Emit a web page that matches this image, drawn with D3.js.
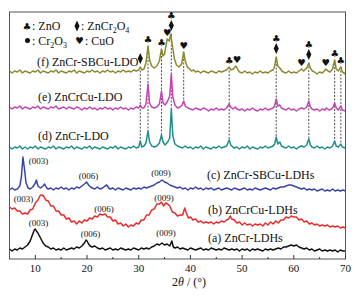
<!DOCTYPE html>
<html><head><meta charset="utf-8">
<script src="https://cdn.jsdelivr.net/npm/d3@7"></script>
<style>body{margin:0;background:#fff}svg{display:block}</style>
</head><body>
<svg id="c" width="355" height="296"></svg>
<script>
// ---- DATA: [2theta, intensity (a.u., stacked offsets)] ----
const seriesA = [[5,10],[5.5,8],[6,10],[6.5,9],[7,11],[7.5,10],[8,12],[8.5,14],[9,18],[9.5,25],[9.8,29],[10,30],[10.2,28],[10.5,26],[11,21],[11.5,16],[12,13],[12.5,12],[13,10],[13.5,11],[14,9],[14.5,10],[15,9],[15.5,11],[16,9],[16.5,10],[17,11],[17.5,10],[18,12],[18.5,11],[19,13],[19.5,16],[19.8,19],[20,18],[20.3,15],[20.6,13],[21,12],[21.5,13],[22,11],[22.5,10],[23,11],[23.5,9],[24,10],[24.5,11],[25,9],[25.5,10],[26,9],[26.5,11],[27,10],[27.5,9],[28,10],[28.5,9],[29,11],[29.5,10],[30,9],[30.5,11],[31,10],[31.5,11],[32,10],[32.5,12],[33,13],[33.5,15],[34,14],[34.5,16],[35,14],[35.5,15],[36,13],[36.4,18],[36.7,12],[37,11],[37.5,12],[38,10],[38.5,11],[39,10],[39.5,9],[40,11],[40.5,10],[41,9],[41.5,10],[42,11],[42.5,9],[43,10],[43.5,9],[44,11],[44.5,10],[45,9],[45.5,10],[46,9],[46.5,11],[47,10],[47.5,9],[48,10],[48.5,9],[49,10],[49.5,8],[50,10],[50.5,9],[51,10],[51.5,8],[52,10],[52.5,9],[53,10],[53.5,9],[54,8],[54.5,10],[55,9],[55.5,10],[56,9],[56.5,10],[57,11],[57.5,10],[58,12],[58.5,12],[59,13],[59.5,14],[60,13],[60.5,14],[61,12],[61.5,11],[62,10],[62.5,11],[63,9],[63.5,10],[64,8],[64.5,9],[65,10],[65.5,8],[66,9],[66.5,8],[67,9],[67.5,8],[68,9],[68.5,7],[69,9],[69.5,8],[70,8]];

const seriesB = [[5,52],[5.5,50],[6,51],[6.5,48],[7,48],[7.5,45],[8,46],[8.5,45],[9,49],[9.5,50],[10,56],[10.5,59],[11,64],[11.3,64],[11.6,63],[12,59],[12.5,58],[13,53],[13.5,53],[14,48],[14.5,48],[15,44],[15.5,44],[16,40],[16.5,41],[17,37],[17.5,38],[18,35],[18.5,38],[19,36],[19.5,39],[20,38],[20.5,41],[21,40],[21.5,43],[22,42],[22.5,45],[23,44],[23.5,45],[24,42],[24.5,42],[25,38],[25.5,39],[26,35],[26.5,36],[27,33],[27.5,35],[28,32],[28.5,34],[29,33],[29.5,36],[30,35],[30.5,39],[31,39],[31.5,44],[32,44],[32.5,49],[33,50],[33.5,55],[34,55],[34.4,57],[34.8,53],[35.2,56],[35.6,55],[36,53],[36.5,47],[37,46],[37.5,43],[38,44],[38.5,44],[38.9,51],[39.2,46],[39.6,41],[40,42],[40.5,39],[41,40],[41.5,37],[42,38],[42.5,36],[43,37],[43.5,36],[44,37],[44.5,35],[45,37],[45.5,36],[46,38],[46.5,37],[47,39],[47.4,40],[47.7,43],[48,40],[48.5,39],[49,36],[49.5,37],[50,34],[50.5,36],[51,34],[51.5,35],[52,33],[52.5,35],[53,34],[53.5,35],[54,33],[54.5,36],[55,34],[55.5,37],[56,35],[56.5,38],[57,36],[57.5,39],[58,39],[58.5,42],[59,41],[59.5,43],[60,42],[60.5,42],[61,39],[61.5,40],[62,37],[62.5,38],[63,35],[63.5,36],[64,34],[64.5,35],[65,33],[65.5,34],[66,33],[66.5,34],[67,32],[67.5,33],[68,32],[68.5,33],[69,31],[69.5,32],[70,31]];

const seriesC = [[5,69],[5.5,71],[6,69],[6.5,70],[7,73],[7.3,82],[7.6,102],[7.9,90],[8.2,76],[8.6,71],[9,70],[9.5,72],[10,76],[10.2,79],[10.5,73],[11,71],[11.5,73],[11.8,75],[12.2,71],[12.5,70],[13,71],[13.5,69],[14,71],[14.5,70],[15,72],[15.5,70],[16,71],[16.5,69],[17,71],[17.5,70],[18,72],[18.5,71],[19,73],[19.5,75],[19.9,77],[20.3,74],[20.7,72],[21,71],[21.5,70],[22,72],[22.5,70],[23,71],[23.5,73],[23.8,74],[24.2,71],[24.5,70],[25,71],[25.5,69],[26,71],[26.5,70],[27,69],[27.5,71],[28,70],[28.5,69],[29,71],[29.5,70],[30,71],[30.5,70],[31,72],[31.5,71],[32,72],[32.5,73],[33,74],[33.5,76],[34,77],[34.5,79],[35,77],[35.5,76],[36,74],[36.5,73],[37,72],[37.5,71],[38,72],[38.5,70],[39,71],[39.5,69],[40,71],[40.5,70],[41,72],[41.5,70],[42,71],[42.5,69],[43,71],[43.5,70],[44,71],[44.5,69],[45,70],[45.5,71],[46,69],[46.5,70],[47,71],[47.5,70],[48,69],[48.5,71],[49,70],[49.5,69],[50,70],[50.5,71],[51,69],[51.5,70],[52,69],[52.5,71],[53,70],[53.5,69],[54,70],[54.5,71],[55,70],[55.5,69],[56,71],[56.5,70],[57,71],[57.5,72],[58,72],[58.5,73],[59,74],[59.5,74],[60,73],[60.5,72],[61,71],[61.5,70],[62,71],[62.5,69],[63,70],[63.5,69],[64,70],[64.5,68],[65,69],[65.5,70],[66,68],[66.5,69],[67,68],[67.5,70],[68,68],[68.5,69],[69,68],[69.5,69],[70,68]];

const seriesD = [[5,112],[5.5,110],[6,112],[6.5,111],[7,113],[7.5,110],[8,112],[8.5,110],[9,112],[9.5,111],[10,113],[10.5,110],[11,112],[11.5,111],[12,110],[12.5,112],[13,111],[13.5,113],[14,110],[14.5,112],[15,111],[15.5,110],[16,112],[16.5,111],[17,113],[17.5,110],[18,112],[18.5,111],[19,110],[19.5,112],[20,111],[20.5,113],[21,110],[21.5,112],[22,111],[22.5,110],[23,112],[23.5,111],[24,110],[24.5,112],[25,111],[25.5,113],[26,110],[26.5,112],[27,111],[27.5,110],[28,112],[28.5,111],[29,113],[29.5,111],[30,112],[30.3,118],[30.6,112],[31,113],[31.4,116],[31.8,128],[32.1,117],[32.5,113],[33,112],[33.5,113],[34,116],[34.4,124],[34.7,117],[35.1,114],[35.6,117],[36,121],[36.3,150],[36.6,123],[37,115],[37.5,113],[38,112],[38.5,111],[39,113],[39.5,111],[40,112],[40.5,110],[41,112],[41.5,111],[42,113],[42.5,110],[43,112],[43.5,111],[44,110],[44.5,112],[45,111],[45.5,113],[46,111],[46.5,112],[47,113],[47.5,119],[47.8,114],[48.2,112],[48.5,111],[49,112],[49.5,110],[50,112],[50.5,111],[51,113],[51.5,110],[52,112],[52.5,111],[53,110],[53.5,112],[54,111],[54.5,113],[55,111],[55.5,112],[56,113],[56.3,115],[56.6,122],[56.9,115],[57.3,117],[57.6,113],[58,112],[58.5,111],[59,113],[59.5,111],[60,112],[60.5,110],[61,112],[61.5,113],[62,112],[62.5,114],[62.9,120],[63.2,114],[63.5,112],[64,111],[64.5,113],[65,111],[65.5,112],[66,110],[66.5,112],[67,111],[67.5,113],[67.9,118],[68.2,113],[68.6,112],[69.1,115],[69.4,112],[70,111]];

const seriesE = [[5,152],[5.5,150],[6,152],[6.5,151],[7,153],[7.5,150],[8,152],[8.5,151],[9,150],[9.5,152],[10,151],[10.5,153],[11,150],[11.5,152],[12,151],[12.5,150],[13,152],[13.5,151],[14,153],[14.5,150],[15,151],[15.5,152],[16,150],[16.5,152],[17,151],[17.5,150],[18,152],[18.5,151],[19,149],[19.5,151],[20,150],[20.5,152],[21,150],[21.5,151],[22,149],[22.5,151],[23,150],[23.5,152],[24,150],[24.5,151],[25,149],[25.5,151],[26,150],[26.5,152],[27,150],[27.5,151],[28,149],[28.5,151],[29,150],[29.5,152],[30,151],[30.3,154],[30.6,151],[31,151],[31.4,155],[31.8,175],[32.1,156],[32.5,152],[33,151],[33.5,152],[34,155],[34.4,168],[34.7,156],[35.1,154],[35.6,158],[36,163],[36.3,185],[36.6,162],[37,154],[37.5,151],[38,152],[38.4,154],[38.7,158],[39,153],[39.5,151],[40,150],[40.5,149],[41,151],[41.5,150],[42,149],[42.5,151],[43,150],[43.5,148],[44,150],[44.5,149],[45,151],[45.5,149],[46,150],[46.5,149],[47,151],[47.5,155],[47.8,152],[48.2,150],[48.7,152],[49,150],[49.5,149],[50,150],[50.5,148],[51,150],[51.5,149],[52,151],[52.5,149],[53,148],[53.5,150],[54,149],[54.5,151],[55,149],[55.5,150],[56,151],[56.3,153],[56.6,160],[56.9,153],[57.3,154],[57.6,151],[58,150],[58.5,149],[59,151],[59.5,149],[60,150],[60.5,148],[61,150],[61.5,151],[62,150],[62.5,152],[62.9,158],[63.2,152],[63.5,150],[64,149],[64.5,150],[65,148],[65.5,150],[66,149],[66.3,151],[66.8,149],[67.3,150],[67.6,152],[67.9,156],[68.2,151],[68.6,149],[69.1,153],[69.4,149],[70,148]];

const seriesF = [[5,188],[5.5,186],[6,188],[6.5,187],[7,189],[7.5,186],[8,188],[8.5,187],[9,186],[9.5,188],[10,187],[10.5,189],[11,186],[11.5,188],[12,187],[12.5,186],[13,188],[13.5,187],[14,189],[14.5,186],[15,188],[15.5,187],[16,186],[16.5,188],[17,187],[17.5,189],[18,186],[18.5,188],[19,187],[19.5,186],[20,188],[20.5,187],[21,189],[21.5,187],[22,188],[22.5,186],[23,188],[23.5,187],[24,189],[24.5,187],[25,188],[25.5,186],[26,188],[26.5,187],[27,189],[27.5,187],[28,188],[28.5,187],[29,189],[29.5,188],[30,189],[30.3,192],[30.6,189],[31,190],[31.4,196],[31.8,213],[32.1,199],[32.5,193],[33,191],[33.5,193],[34,198],[34.4,210],[34.7,203],[35,205],[35.5,220],[35.9,218],[36.2,225],[36.5,214],[36.9,200],[37.3,194],[37.8,192],[38.3,195],[38.7,207],[39,198],[39.4,192],[39.8,190],[40.2,188],[40.6,189],[41,187],[41.5,188],[42,186],[42.5,188],[43,187],[43.5,186],[44,188],[44.5,187],[45,186],[45.5,188],[46,187],[46.5,188],[47,189],[47.5,192],[47.8,189],[48.3,190],[48.8,193],[49.2,189],[49.5,187],[50,186],[50.5,188],[51,186],[51.5,187],[52,185],[52.5,187],[53,186],[53.5,188],[54,186],[54.5,187],[55,186],[55.5,188],[56,189],[56.3,193],[56.6,202],[56.9,193],[57.3,191],[57.7,188],[58,187],[58.5,186],[59,188],[59.5,186],[60,187],[60.5,186],[61,188],[61.5,190],[61.9,188],[62.3,190],[62.6,192],[62.9,196],[63.2,191],[63.6,188],[64,187],[64.5,185],[65,187],[65.5,186],[65.9,188],[66.2,190],[66.6,188],[67,187],[67.5,190],[67.9,199],[68.2,190],[68.6,188],[69.1,192],[69.4,187],[70,185]];

const sampleNames = ["(a) ZnCr-LDHs","(b) ZnCrCu-LDHs","(c) ZnCr-SBCu-LDHs","(d) ZnCr-LDO","(e) ZnCrCu-LDO","(f) ZnCr-SBCu-LDO"];
const millerLabels = ["(003)","(006)","(009)"];
const xTicks = [10,20,30,40,50,60,70];
const xMinorTicks = [15,25,35,45,55,65];
// phase reflections marked above curve (f), glyphs listed bottom to top
const phaseMarks = [
  {theta:30.3, marks:["diamond"]},
  {theta:31.8, marks:["club"]},
  {theta:34.4, marks:["club"]},
  {theta:35.5, marks:["heart"]},
  {theta:36.3, marks:["diamond","club"]},
  {theta:38.7, marks:["heart"]},
  {theta:47.5, marks:["club"]},
  {theta:49.0, marks:["heart"]},
  {theta:56.6, marks:["diamond","club"]},
  {theta:61.5, marks:["heart"]},
  {theta:62.9, marks:["diamond","club"]},
  {theta:66.2, marks:["heart"]},
  {theta:67.9, marks:["club"]},
  {theta:69.1, marks:["club"]}
];
// dashed guide lines: from curve (f) down to the given curve
const guideLines = [
  {theta:30.3, to:"d"},{theta:31.8, to:"d"},{theta:34.4, to:"d"},{theta:36.3, to:"d"},
  {theta:38.7, to:"e"},{theta:47.5, to:"d"},{theta:56.6, to:"d"},{theta:62.9, to:"d"},
  {theta:67.9, to:"d"},{theta:69.1, to:"d"}
];

// ---- DRAWING ----
const svg = d3.select("#c");
const x = d3.scaleLinear().domain([5,70]).range([9.5,345.5]);
const y = d3.scaleLinear().domain([0,247]).range([259,12]);
const serif = "'Liberation Serif','Times New Roman',serif";
const sym = "'DejaVu Sans',sans-serif";

const series = {a:seriesA,b:seriesB,c:seriesC,d:seriesD,e:seriesE,f:seriesF};
const colors = {a:"#111111",b:"#ea2a2a",c:"#3845a6",d:"#1f9088",e:"#c444b6",f:"#8b8a30"};

function peakAt(s,t){ return d3.max(s.filter(p=>Math.abs(p[0]-t)<=0.25), p=>p[1]); }

// dashed guides
svg.append("g").selectAll("line").data(guideLines).join("line")
  .attr("x1",d=>x(d.theta)).attr("x2",d=>x(d.theta))
  .attr("y1",d=>y(peakAt(seriesF,d.theta)))
  .attr("y2",d=>y(peakAt(series[d.to],d.theta)))
  .attr("stroke","#222").attr("stroke-width",0.8).attr("stroke-dasharray","2,1.5");

// curves
const line = d3.line().x(d=>x(d[0])).y(d=>y(d[1]));
["a","b","c","d","e","f"].forEach(k=>{
  svg.append("path").datum(series[k]).attr("d",line)
    .attr("fill","none").attr("stroke",colors[k]).attr("stroke-width",1.5)
    .attr("stroke-linejoin","round");
});

// frame
svg.append("rect").attr("x",x(5)).attr("y",y(247)).attr("width",x(70)-x(5)).attr("height",y(0)-y(247))
  .attr("fill","none").attr("stroke","#555").attr("stroke-width",1);

// x axis ticks (inward)
const ax = svg.append("g");
ax.selectAll("line.maj").data(xTicks).join("line").attr("class","maj")
  .attr("x1",d=>x(d)).attr("x2",d=>x(d)).attr("y1",y(0)).attr("y2",y(0)-4)
  .attr("stroke","#333").attr("stroke-width",1);
ax.selectAll("line.min").data(xMinorTicks).join("line").attr("class","min")
  .attr("x1",d=>x(d)).attr("x2",d=>x(d)).attr("y1",y(0)).attr("y2",y(0)-2)
  .attr("stroke","#333").attr("stroke-width",1);
ax.selectAll("text").data(xTicks).join("text")
  .attr("x",d=>x(d)).attr("y",271.5).attr("text-anchor","middle")
  .attr("font-family",serif).attr("font-size",11).attr("fill","#111").text(d=>d);

// axis title 2θ / (°)
const tt = svg.append("text").attr("x",189).attr("y",285.5).attr("text-anchor","middle")
  .attr("font-family",serif).attr("font-size",12).attr("fill","#111");
tt.append("tspan").text("2");
tt.append("tspan").attr("font-style","italic").text("θ");
tt.append("tspan").text(" / (°)");

// sample labels
const lab = (t,px,py)=>svg.append("text").attr("x",px).attr("y",py)
  .attr("font-family",serif).attr("font-size",12).attr("fill","#111").text(t);
lab(sampleNames[5],37,66);
lab(sampleNames[4],38,101);
lab(sampleNames[3],38,140);
lab(sampleNames[2],207,179);
lab(sampleNames[1],208,214);
lab(sampleNames[0],208,242);

// miller labels
const ml = (t,px,py)=>svg.append("text").attr("x",px).attr("y",py).attr("text-anchor","middle")
  .attr("font-family",serif).attr("font-size",9).attr("fill","#111").text(t);
ml(millerLabels[0],38.5,164); ml(millerLabels[1],88.5,179); ml(millerLabels[2],161,175.5);
ml(millerLabels[0],23.5,202); ml(millerLabels[1],104,211.5); ml(millerLabels[2],164,200.5);
ml(millerLabels[0],38.5,225.5); ml(millerLabels[1],90.5,236.5); ml(millerLabels[2],166,236);

// glyph drawing
const glyphH = {club:8, heart:8, diamond:11};
function drawGlyph(kind,cx,cy){
  if(kind==="diamond"){
    svg.append("path").attr("d",`M${cx},${cy-5.5}L${cx+2.5},${cy}L${cx},${cy+5.5}L${cx-2.5},${cy}Z`).attr("fill","#111");
  } else if(kind==="circle"){
    svg.append("circle").attr("cx",cx).attr("cy",cy).attr("r",2.5).attr("fill","#111");
  } else {
    svg.append("text").attr("x",cx).attr("y",cy).attr("text-anchor","middle")
      .attr("dominant-baseline","central").attr("font-family",sym).attr("font-size",9.5)
      .attr("fill","#111").text(kind==="club"?"♣":"♥");
  }
}
phaseMarks.forEach(m=>{
  let cy = y(peakAt(seriesF,m.theta)) - 3;
  m.marks.forEach(k=>{
    cy -= glyphH[k]/2;
    drawGlyph(k,x(m.theta),cy);
    cy -= glyphH[k]/2 + 1;
  });
});

// legend
drawGlyph("club",27,26);
drawGlyph("diamond",77,26);
drawGlyph("circle",27.5,40.5);
drawGlyph("heart",79.5,40.5);
function legText(px,py,parts){
  const t = svg.append("text").attr("x",px).attr("y",py).attr("font-family",serif)
    .attr("font-size",12).attr("fill","#111");
  parts.forEach(p=>{
    if(p.sub) t.append("tspan").attr("font-size",8).attr("dy",2.5).text(p.t);
    else t.append("tspan").attr("dy",p.back?-2.5:0).text(p.t);
  });
}
legText(32,30,[{t:": ZnO"}]);
legText(81,30,[{t:": ZnCr"},{t:"2",sub:1},{t:"O",back:1},{t:"4",sub:1}]);
legText(32,45,[{t:": Cr"},{t:"2",sub:1},{t:"O",back:1},{t:"3",sub:1}]);
legText(85,45,[{t:": CuO"}]);
</script>
</body></html>
